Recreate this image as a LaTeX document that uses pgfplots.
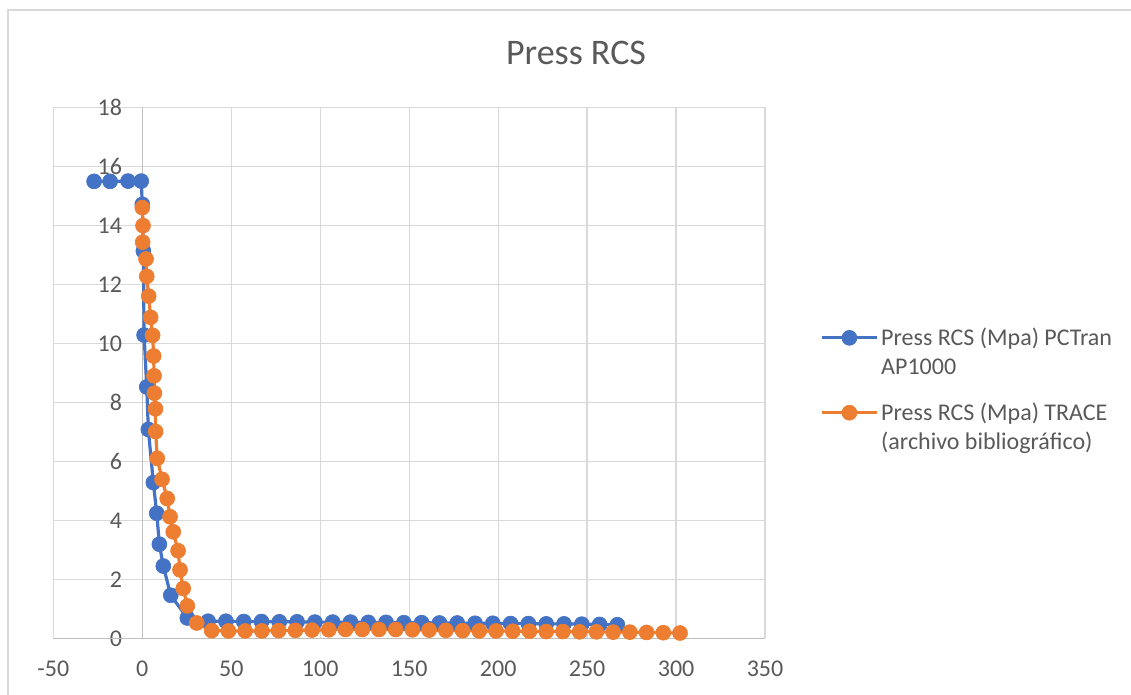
\documentclass[border=0pt]{standalone}
\usepackage{pgfplots}
\pgfplotsset{compat=1.18}
\usepackage{fontspec}
\setmainfont{Carlito}
\definecolor{xblue}{HTML}{4472C4}
\definecolor{xorange}{HTML}{ED7D31}
\definecolor{txt}{HTML}{595959}
\definecolor{gridc}{HTML}{D9D9D9}
\definecolor{axc}{HTML}{BFBFBF}
\begin{document}
\begin{tikzpicture}
\clip (0,0) rectangle (848.25pt,521.25pt);
\draw[gridc, line width=1pt] (6pt,-20pt) -- (6pt,513.75pt) -- (870pt,513.75pt);
\node[font=\fontsize{27}{32}\selectfont, text=txt, anchor=base] at (432pt,472.5pt) {Press RCS};
\begin{axis}[
  at={(40pt,42.5pt)}, anchor=south west,
  scale only axis, width=533.8pt, height=398.25pt,
  xmin=-50, xmax=350, ymin=0, ymax=18,
  xtick={-50,0,...,350}, ytick={0,2,...,18},
  grid=major, major grid style={gridc, line width=1pt},
  axis line style={draw=none},
  major tick length=0pt,
  /pgf/number format/assume math mode=true,
  ticklabel style={font=\fontsize{18}{21.5}\selectfont, text=txt},
  yticklabel style={xshift=55pt},
  xticklabel style={yshift=-13.5pt},
  legend cell align=left,
  legend style={at={(1.0773,0.468)}, anchor=west, draw=none, fill=none, inner sep=0pt,
    font=\fontsize{18}{21.75}\selectfont, text=txt, cells={align=left, inner xsep=3.5pt}, row sep=15.75pt},
  legend image code/.code={\draw[mark repeat=2,mark phase=2,#1] plot coordinates {(0pt,10.9pt) (20.6pt,10.9pt) (41.25pt,10.9pt)};},
]
\draw[axc, line width=1pt] (axis cs:-50,0) -- (axis cs:350,0);
\draw[axc, line width=1pt] (axis cs:0,0) -- (axis cs:0,18);
\addplot[color=xblue, line width=2.4pt, mark=*, mark size=5.6pt, mark options={solid, fill=xblue, draw=xblue, line width=0.5pt}] coordinates {
(-27.1,15.49) (-18.1,15.49) (-8.0,15.50) (-0.6,15.50) (0.0,14.71) (0.6,13.13) (1.0,10.28)
(2.5,8.52) (3.4,7.08) (6.2,5.28) (8.1,4.24) (9.6,3.19) (11.8,2.45) (16.0,1.46) (25.3,0.69)
(37,0.58) (47,0.58) (57,0.57) (67,0.57) (77,0.56) (87,0.56) (97,0.55) (107,0.55)
(117,0.55) (127,0.54) (137,0.54) (147,0.53) (157,0.53) (167,0.52) (177,0.52) (187,0.51)
(197,0.51) (207,0.50) (217,0.50) (227,0.49) (237,0.49) (247,0.48) (257,0.47) (267,0.46)
};
\addlegendentry{Press RCS (Mpa) PCTran\\AP1000}
\addplot[color=xorange, line width=2.4pt, mark=*, mark size=5.6pt, mark options={solid, fill=xorange, draw=xorange, line width=0.5pt}] coordinates {
(0.0,14.60) (0.4,13.99) (0.2,13.43) (2.1,12.86) (2.5,12.27) (3.6,11.60) (4.7,10.88)
(5.8,10.27) (6.4,9.57) (6.6,8.90) (6.8,8.31) (7.4,7.78) (7.5,7.01) (8.4,6.10) (11.1,5.39)
(14.0,4.74) (15.6,4.12) (17.4,3.61) (20.1,2.97) (21.2,2.32) (23.0,1.69) (25.3,1.10) (30.6,0.52)
(39.0,0.26) (48.4,0.25) (57.8,0.25) (67.2,0.25) (76.6,0.26) (86.0,0.27) (95.4,0.28) (104.8,0.29)
(114.2,0.30) (123.6,0.30) (133.0,0.30) (142.4,0.30) (151.8,0.29) (161.2,0.28) (170.6,0.27)
(180.0,0.26) (189.4,0.25) (198.8,0.25) (208.2,0.24) (217.6,0.24) (227.0,0.23) (236.4,0.23)
(245.8,0.22) (255.2,0.22) (264.6,0.21) (274.0,0.21) (283.4,0.20) (292.8,0.19) (302.2,0.18)
};
\addlegendentry{Press RCS (Mpa) TRACE\\(archivo bibliográfico)}
\end{axis}
\end{tikzpicture}
\end{document}
